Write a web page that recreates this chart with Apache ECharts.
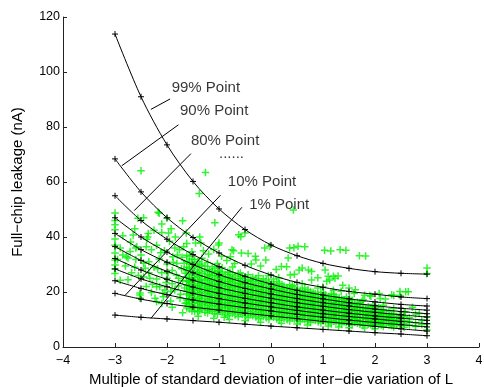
<!DOCTYPE html>
<html>
<head>
<meta charset="utf-8">
<script src="https://cdn.jsdelivr.net/npm/echarts@6/dist/echarts.min.js"></script>
<style>
  html, body { margin: 0; padding: 0; background: #fff; }
  #leakChart { width: 484px; height: 387px; }
</style>
</head>
<body>
<div id="leakChart"></div>
<script>
// sigma steps on the x axis
var xSteps = [-3, -2.5, -2, -1.5, -1, -0.5, 0, 0.5, 1, 1.5, 2, 2.5, 3];

// percentile curves (nA)
var p99 = [113.8, 91, 73.5, 60.2, 50.2, 42.7, 37.1, 33.2, 30.4, 28.6, 27.4, 26.8, 26.5];
var p90 = [68.4, 56.4, 47, 39.8, 34.2, 29.7, 26.2, 23.5, 21.7, 20.2, 19.2, 18.2, 17.6];
var p80 = [55, 46, 39.2, 33.6, 29.2, 25.7, 22.9, 20.6, 18.9, 17.5, 16.4, 15.5, 14.9];
var p70 = [47, 40, 34.5, 30, 26.3, 23.4, 21.1, 19.1, 17.5, 16.1, 15, 14.1, 13.4];
var p60 = [41.3, 35.4, 30.8, 27, 23.8, 21.3, 19.3, 17.6, 16.1, 14.9, 13.8, 12.9, 12.1];
var p50 = [36.5, 31.5, 27.5, 24.3, 21.6, 19.5, 17.7, 16.1, 14.8, 13.6, 12.6, 11.7, 10.9];
var p40 = [32.2, 28, 24.6, 21.8, 19.5, 17.7, 16.1, 14.6, 13.4, 12.3, 11.3, 10.5, 9.7];
var p30 = [28.4, 24.8, 21.9, 19.5, 17.6, 16, 14.6, 13.3, 12.1, 11.1, 10.2, 9.3, 8.5];
var p20 = [24.1, 21.3, 19, 17.1, 15.6, 14.3, 13.1, 11.9, 10.8, 9.8, 8.9, 8.1, 7.3];
var p10 = [19.5, 17.4, 15.8, 14.5, 13.4, 12.3, 11.3, 10.3, 9.3, 8.4, 7.5, 6.6, 5.8];
var p01 = [11.6, 10.8, 10.2, 9.6, 9.0, 8.3, 7.6, 7.0, 6.4, 5.8, 5.2, 4.7, 4.1];
var pctCurves = [p99, p90, p80, p70, p60, p50, p40, p30, p20, p10, p01];

// Monte Carlo samples: scattered ones
var sparsePts = [
  [-3, 48.7], [-3, 46], [-3, 44.5], [-3, 42.6], [-3, 39.3], [-3, 37], [-3, 34.2], [-3, 31.6], [-3, 29.8], [-3, 28.4], [-3, 26.7],
  [-2.5, 64.1], [-2.56, 46.8], [-2.17, 49], [-2.0, 46.8], [-2.1, 44.7], [-1.7, 45.9], [-1.92, 43], [-2.36, 41.3], [-2.39, 39.2],
  [-2.1, 41.6], [-2.58, 36.5], [-2.71, 34.7], [-2.78, 32.8], [-2.68, 27], [-2.42, 28.6], [-2.33, 25], [-2.2, 21.9], [-2.23, 17.7],
  [-2.04, 20.7], [-2.07, 18.3], [-2.52, 18.9], [-2.0, 25], [-1.9, 27.8], [-1.81, 30.4], [-1.71, 32.6], [-1.89, 32.8], [-1.78, 25],
  [-1.65, 26.8], [-1.85, 20.7], [-1.75, 17.7], [-1.59, 23.7], [-1.56, 19.5], [-1.65, 15.9], [-2.45, 47], [-2.15, 48.6],
  [-2.85, 40.5], [-2.7, 38.2], [-2.9, 36], [-2.62, 43], [-2.8, 29.5], [-2.95, 31.8], [-2.75, 32.4], [-2.5, 33.5], [-2.45, 30.5],
  [-2.6, 31.8], [-2.75, 24.5], [-2.4, 22], [-2.52, 19.6], [-2.3, 35.4], [-2.2, 37], [-2.15, 32], [-2.05, 35], [-2.25, 29],
  [-2.1, 27], [-1.95, 38.5], [-1.85, 36], [-1.76, 35.4], [-1.63, 41.5], [-1.72, 28.5], [-1.9, 23], [-2.0, 30.2], [-1.8, 33.5],
  [-1.68, 36.5], [-2.35, 27], [-2.14, 22], [-2.08, 19.6], [-2.2, 24.7], [-2.52, 17.8], [-2.2, 16.5], [-2.6, 36], [-2.37, 40],
  [-2.45, 25.5], [-2.35, 31], [-2.28, 22.8], [-2.18, 28.5], [-2.12, 34.3], [-2.02, 23.5], [-1.98, 27], [-1.93, 20.2], [-1.88, 30.8],
  [-1.82, 26.2], [-1.78, 22.2], [-1.74, 19.2], [-1.7, 24.2], [-1.67, 30.5], [-1.66, 21.5], [-1.62, 37.6], [-1.58, 16.9], [-2.3, 19.8],
  [-2.55, 26], [-2.62, 29], [-2.9, 24.3], [-2.85, 33.5], [-2.65, 40.7], [-2.4, 36.5], [-2.25, 42.5], [-1.97, 41.5], [-1.84, 40], [-1.93, 16.7],
  [-1.26, 63.5], [-1.38, 55.8], [-1.08, 45.2], [-1.37, 40], [-1.35, 37.8], [-1.45, 37.8], [-1.3, 35], [-1.2, 33.8], [-1.1, 35.5],
  [-1.0, 37.8], [-1.01, 37.1], [-0.95, 33], [-0.85, 31.5], [-0.78, 32.8], [-0.7, 30.4], [-0.62, 40.8], [-0.5, 41.5], [-0.58, 40.1],
  [-0.75, 35.4], [-0.72, 35], [-0.57, 34.2], [-0.44, 34], [-0.3, 33], [-0.38, 30.2], [-0.2, 29.5], [-0.12, 36], [-0.02, 36.6],
  [-0.1, 31.6], [-0.29, 31.6], [0.1, 28.2], [0.2, 29.3], [0.36, 36], [0.44, 36.1], [0.52, 36.6], [0.65, 36.5], [0.33, 32.4],
  [0.3, 29.2], [0.45, 26.5], [0.37, 26.2], [0.54, 28], [0.6, 28.7], [0.72, 28], [0.78, 27.5], [0.78, 24.4], [0.9, 25.2],
  [1.04, 28], [1.03, 35.2], [1.15, 34.9], [1.1, 25.7], [1.2, 25.7], [1.23, 25], [1.29, 25.8], [1.07, 23.9], [1.13, 24.4],
  [1.33, 35.4], [1.44, 35.2], [1.7, 33.2], [1.82, 33.1], [1.38, 22.5], [1.5, 21.5], [1.62, 20.8], [1.9, 18.7], [1.92, 18.5],
  [2.08, 19.5], [2.2, 17.5], [2.36, 18.7], [2.48, 20.2], [2.48, 18.7], [2.32, 19], [2.59, 20.1], [2.64, 20.1], [1.75, 16.6],
  [2.58, 12.8], [3.0, 28.7], [3.0, 26.7], [3.0, 11], [3.0, 6.2], [3.0, 8.5], [2.85, 12.2], [2.72, 14.5], [0.43, 49.8],
  [0.9, 21.5], [1.35, 20.3], [1.6, 19.5], [0.15, 25.2], [-0.05, 26], [0.6, 23], [1.0, 21.8], [1.2, 20.6], [1.8, 18.8], [2.1, 17.6],
  [-1.4, 11.2], [-1.1, 10.5], [-0.8, 10], [-0.5, 9.6], [-0.2, 9.0], [0.2, 8.6], [0.7, 8.0], [1.1, 7.6], [1.5, 7.0], [2.0, 6.6],
  [-1.7, 12.5], [-1.9, 14.5], [-2.1, 15.8], [-0.9, 10.8], [0.5, 8.4], [1.3, 7.3], [1.8, 6.9]
];

// Monte Carlo samples: the dense band, column by column [x, [y...]]
var denseCols = [
  [-1.62, [14.2, 16.0, 17.1, 19.3, 20.4, 22.6, 24.1, 25.5, 27.8, 29.0, 31.2, 33.4]],
  [-1.57, [13.8, 15.6, 17.5, 18.7, 20.9, 22.1, 23.7, 25.2, 26.9, 28.8, 30.6, 33.0]],
  [-1.52, [13.1, 15.2, 16.8, 18.1, 19.9, 21.5, 23.0, 24.8, 26.3, 28.5, 30.1, 32.0, 34.6]],
  [-1.47, [12.9, 14.2, 15.9, 17.4, 19.0, 20.6, 22.4, 23.8, 25.3, 27.4, 29.5, 31.7]],
  [-1.41, [12.8, 14.5, 16.1, 17.6, 19.2, 20.8, 22.2, 23.9, 25.6, 27.1, 28.9, 31.0]],
  [-1.37, [13.3, 14.9, 16.5, 18.2, 19.8, 21.3, 22.9, 24.4, 26.1, 28.0, 30.2]],
  [-1.33, [13.6, 15.4, 16.9, 18.6, 20.1, 21.7, 23.4, 24.7, 26.8, 29.6, 32.3]],
  [-1.27, [12.6, 14.4, 16.0, 17.6, 19.4, 21.0, 22.5, 24.1, 25.6, 27.5, 29.4]],
  [-1.22, [12.4, 14.0, 15.7, 17.2, 18.8, 20.3, 21.9, 23.3, 24.9, 26.5, 28.2, 30.7]],
  [-1.18, [13.3, 15.1, 16.6, 18.3, 19.9, 21.4, 23.0, 24.6, 26.2, 28.0]],
  [-1.13, [13.0, 14.8, 16.4, 17.9, 19.5, 21.0, 22.6, 24.2, 25.8, 27.4, 29.3]],
  [-1.08, [12.3, 14.1, 15.7, 17.3, 18.8, 20.4, 22.0, 23.6, 25.1, 26.8, 28.6]],
  [-1.03, [11.9, 13.6, 15.2, 16.7, 18.2, 19.8, 21.3, 22.9, 24.4, 26.0, 27.7, 30.4]],
  [-0.98, [13.0, 14.7, 16.3, 17.9, 19.4, 21.0, 22.6, 24.1, 25.7, 27.5]],
  [-0.94, [12.6, 14.3, 15.8, 17.4, 18.9, 20.5, 22.1, 23.6, 25.2, 26.9, 28.8]],
  [-0.88, [12.0, 13.8, 15.4, 16.9, 18.4, 20.0, 21.5, 23.1, 24.7, 26.4]],
  [-0.83, [11.4, 13.1, 14.7, 16.2, 17.7, 19.2, 20.8, 22.4, 23.9, 25.5, 27.3]],
  [-0.79, [12.7, 14.4, 16.0, 17.5, 19.0, 20.6, 22.1, 23.7, 25.3, 27.2]],
  [-0.74, [12.2, 13.8, 15.4, 16.9, 18.5, 20.0, 21.6, 23.1, 24.6, 26.4, 29.1]],
  [-0.69, [11.6, 13.3, 14.9, 16.4, 17.9, 19.5, 21.0, 22.5, 24.1, 25.8]],
  [-0.63, [11.0, 12.7, 14.3, 15.8, 17.3, 18.8, 20.3, 21.8, 23.4, 25.0, 26.7]],
  [-0.59, [12.3, 14.0, 15.6, 17.1, 18.6, 20.1, 21.6, 23.1, 24.8, 26.9]],
  [-0.55, [11.8, 13.4, 15.0, 16.5, 18.0, 19.5, 21.1, 22.6, 24.2, 25.8]],
  [-0.49, [11.3, 12.9, 14.5, 16.0, 17.5, 19.0, 20.5, 22.0, 23.6, 25.3]],
  [-0.44, [10.6, 12.3, 13.9, 15.4, 16.9, 18.4, 19.9, 21.4, 22.9, 24.5, 26.3]],
  [-0.39, [12.0, 13.6, 15.2, 16.7, 18.2, 19.7, 21.2, 22.7, 24.3]],
  [-0.35, [11.4, 13.0, 14.6, 16.1, 17.6, 19.1, 20.6, 22.1, 23.7, 25.4]],
  [-0.29, [10.9, 12.5, 14.1, 15.6, 17.1, 18.6, 20.1, 21.6, 23.1, 24.9]],
  [-0.24, [10.3, 11.9, 13.5, 15.0, 16.5, 18.0, 19.4, 20.9, 22.4, 24.0, 25.9]],
  [-0.19, [11.6, 13.2, 14.8, 16.3, 17.8, 19.2, 20.7, 22.2, 23.8]],
  [-0.15, [11.1, 12.7, 14.2, 15.7, 17.2, 18.6, 20.1, 21.6, 23.2, 24.8]],
  [-0.09, [10.6, 12.2, 13.7, 15.2, 16.7, 18.1, 19.6, 21.1, 22.7, 24.4]],
  [-0.04, [10.0, 11.6, 13.2, 14.7, 16.1, 17.5, 19.0, 20.5, 22.0, 23.6]],
  [0.01, [11.2, 12.8, 14.3, 15.8, 17.2, 18.7, 20.1, 21.6, 23.1]],
  [0.05, [10.8, 12.4, 13.9, 15.3, 16.8, 18.2, 19.7, 21.2, 22.8, 24.7]],
  [0.11, [10.2, 11.8, 13.3, 14.8, 16.2, 17.6, 19.0, 20.5, 22.0, 23.7]],
  [0.16, [9.7, 11.3, 12.8, 14.3, 15.7, 17.1, 18.5, 20.0, 21.5, 23.1]],
  [0.21, [10.9, 12.4, 13.9, 15.3, 16.7, 18.1, 19.6, 21.1, 22.7]],
  [0.25, [10.5, 12.0, 13.5, 14.9, 16.3, 17.7, 19.2, 20.6, 22.2]],
  [0.31, [9.9, 11.5, 13.0, 14.4, 15.8, 17.2, 18.6, 20.0, 21.6]],
  [0.36, [9.5, 11.0, 12.5, 13.9, 15.3, 16.7, 18.1, 19.5, 21.0, 22.6]],
  [0.41, [10.6, 12.1, 13.6, 15.0, 16.4, 17.8, 19.2, 20.7, 22.3]],
  [0.45, [10.2, 11.7, 13.1, 14.5, 15.9, 17.3, 18.7, 20.2, 21.8]],
  [0.51, [9.6, 11.2, 12.6, 14.0, 15.4, 16.8, 18.2, 19.6, 21.1]],
  [0.56, [9.2, 10.7, 12.2, 13.6, 14.9, 16.3, 17.7, 19.1, 20.6]],
  [0.61, [10.3, 11.8, 13.2, 14.6, 16.0, 17.4, 18.8, 20.3]],
  [0.65, [9.9, 11.4, 12.8, 14.2, 15.6, 16.9, 18.3, 19.8, 21.5]],
  [0.71, [9.4, 10.9, 12.3, 13.7, 15.1, 16.4, 17.8, 19.2, 20.8]],
  [0.76, [8.9, 10.4, 11.8, 13.2, 14.6, 15.9, 17.3, 18.7, 20.2]],
  [0.81, [10.0, 11.5, 12.9, 14.2, 15.6, 17.0, 18.4, 19.9]],
  [0.85, [9.6, 11.1, 12.5, 13.8, 15.2, 16.5, 17.9, 19.4]],
  [0.91, [9.1, 10.6, 12.0, 13.4, 14.7, 16.1, 17.5, 18.9]],
  [0.96, [8.7, 10.1, 11.5, 12.9, 14.2, 15.5, 16.9, 18.3, 19.9]],
  [1.01, [9.8, 11.2, 12.6, 13.9, 15.2, 16.6, 18.0, 19.6]],
  [1.05, [9.4, 10.8, 12.2, 13.5, 14.8, 16.1, 17.5, 19.0]],
  [1.11, [8.9, 10.3, 11.7, 13.0, 14.3, 15.6, 17.0, 18.4]],
  [1.16, [8.4, 9.8, 11.2, 12.5, 13.8, 15.1, 16.4, 17.8, 19.3]],
  [1.21, [9.5, 10.9, 12.2, 13.5, 14.8, 16.1, 17.5, 19.1]],
  [1.25, [9.1, 10.5, 11.8, 13.1, 14.4, 15.7, 17.0, 18.4]],
  [1.31, [8.7, 10.1, 11.4, 12.7, 14.0, 15.3, 16.6, 18.0]],
  [1.36, [8.2, 9.6, 10.9, 12.2, 13.5, 14.7, 16.0, 17.4]],
  [1.41, [9.3, 10.6, 11.9, 13.2, 14.5, 15.8, 17.2]],
  [1.45, [8.9, 10.2, 11.5, 12.8, 14.1, 15.3, 16.7, 18.2]],
  [1.51, [8.5, 9.8, 11.1, 12.4, 13.6, 14.9, 16.2, 17.7]],
  [1.56, [8.0, 9.3, 10.6, 11.9, 13.1, 14.3, 15.6, 17.0]],
  [1.61, [9.0, 10.3, 11.6, 12.9, 14.2, 15.5]],
  [1.66, [8.6, 9.9, 11.2, 12.4, 13.7, 14.9, 16.3]],
  [1.71, [8.3, 9.6, 10.9, 12.1, 13.3, 14.6, 16.0]],
  [1.77, [7.8, 9.1, 10.4, 11.6, 12.8, 14.0, 15.4, 17.2]],
  [1.82, [8.8, 10.1, 11.4, 12.6, 13.9]],
  [1.87, [8.4, 9.7, 10.9, 12.1, 13.4, 14.6]],
  [1.92, [8.1, 9.4, 10.6, 11.8, 13.0, 14.3]],
  [1.96, [7.6, 8.9, 10.1, 11.3, 12.5, 13.8, 15.5]],
  [2.02, [8.7, 9.9, 11.1, 12.4]],
  [2.07, [8.2, 9.4, 10.6, 11.8, 13.1, 14.4]],
  [2.12, [8.0, 9.2, 10.4, 11.6, 12.9]],
  [2.16, [7.5, 8.7, 9.9, 11.1, 12.3, 13.6, 15.2]],
  [2.22, [8.5, 9.7, 10.9, 12.0]],
  [2.27, [8.0, 9.2, 10.4, 11.6, 12.9]],
  [2.32, [7.8, 9.0, 10.2, 11.4]],
  [2.36, [7.3, 8.6, 9.8, 11.0, 12.2, 14.0]],
  [2.42, [8.3, 9.5, 10.8]],
  [2.47, [7.9, 9.1, 10.3, 11.5]],
  [2.56, [7.2, 8.5, 9.7, 11.0, 12.8]],
  [2.66, [8.0, 9.3, 10.6]],
  [2.78, [7.5, 8.8, 12.0]],
  [2.9, [8.2, 9.6]]
];

// leader lines from each curve to its label
var guideLines = [
  [[-2.31, 86.4], [-1.94, 90.2]],
  [[-2.87, 65.9], [-1.78, 80.8]],
  [[-2.63, 49.6], [-1.54, 70.3]],
  [[-2.80, 18.9], [-0.97, 55.2]],
  [[-2.31, 10.4], [-0.56, 50.8]]
];
var labelNames = ['99% Point', '90% Point', '80% Point', '......', '10% Point', '1% Point'];
var labelX = [-1.91, -1.75, -1.54, -1.0, -0.83, -0.42];
var labelY = [94.2, 85.7, 75.1, 70.1, 60.2, 51.8];

var FONT = 'Liberation Sans, Arial, Helvetica, sans-serif';
var PLUS = 'path://M0,-1L0,1M-1,0L1,0';
var minus = function (v) { return String(v).replace('-', '\u2212'); };

var leakChart = echarts.init(document.getElementById('leakChart'));

var cloud = sparsePts.slice();
denseCols.forEach(function (col) {
    col[1].forEach(function (y) { cloud.push([col[0], y]); });
});

var series = [];
series.push({
    type: 'scatter',
    data: cloud,
    symbol: PLUS,
    symbolSize: 7.5,
    z: 1,
    itemStyle: { color: '#00ff00', borderColor: '#00f000', borderWidth: 1.5 }
});
pctCurves.forEach(function (c) {
    series.push({
        type: 'line',
        data: xSteps.map(function (x, i) { return [x, c[i]]; }),
        smooth: 0.3,
        symbol: PLUS,
        symbolSize: 6,
        showSymbol: true,
        z: 3,
        lineStyle: { color: '#000', width: 1 },
        itemStyle: { color: '#000', borderColor: '#000', borderWidth: 1 }
    });
});
guideLines.forEach(function (g) {
    series.push({
        type: 'line',
        data: g,
        symbol: 'none',
        z: 4,
        lineStyle: { color: '#000', width: 1 }
    });
});
series.push({
    type: 'scatter',
    symbolSize: 0,
    z: 5,
    data: labelNames.map(function (n, i) { return { value: [labelX[i], labelY[i]], name: n }; }),
    label: {
        show: true,
        position: 'right',
        distance: 0,
        formatter: '{b}',
        color: '#000',
        fontSize: 15,
        fontFamily: FONT
    }
});

var option = {
    animation: false,
    backgroundColor: '#fff',
    grid: { left: 63, right: 5, top: 17, bottom: 40, containLabel: false, outerBoundsMode: 'none' },
    xAxis: {
        type: 'value',
        min: -4, max: 4, interval: 1,
        name: 'Multiple of standard deviation of inter\u2212die variation of L',
        nameLocation: 'middle',
        nameGap: 25,
        nameTextStyle: { color: '#000', fontSize: 15, fontFamily: FONT },
        axisLine: { show: true, onZero: false, lineStyle: { color: '#222', width: 1 } },
        axisTick: { show: true, inside: true, length: 4, lineStyle: { color: '#222' } },
        axisLabel: { color: '#000', fontSize: 12.5, fontFamily: FONT, margin: 7, formatter: minus },
        splitLine: { show: false }
    },
    yAxis: {
        type: 'value',
        min: 0, max: 120, interval: 20,
        name: 'Full\u2212chip leakage (nA)',
        nameLocation: 'middle',
        nameGap: 38,
        nameTextStyle: { color: '#000', fontSize: 15, fontFamily: FONT },
        axisLine: { show: true, onZero: false, lineStyle: { color: '#222', width: 1 } },
        axisTick: { show: true, inside: true, length: 4, lineStyle: { color: '#222' } },
        axisLabel: { color: '#000', fontSize: 12.5, fontFamily: FONT, margin: 3 },
        splitLine: { show: false }
    },
    series: series
};
leakChart.setOption(option);
</script>
</body>
</html>
